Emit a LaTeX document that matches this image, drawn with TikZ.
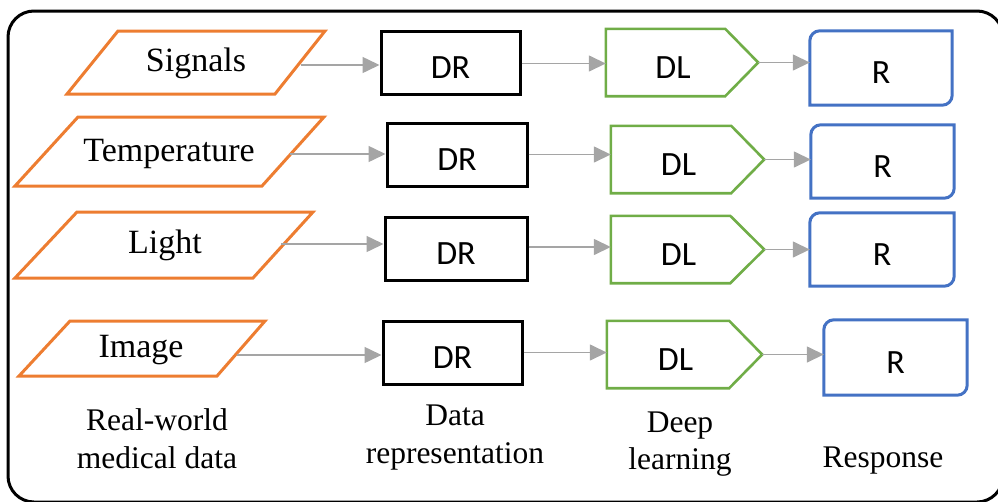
\documentclass[tikz,border=0pt]{standalone}
\usepackage{fontspec}
\setmainfont{Liberation Serif}
\newfontfamily\boxfont{Carlito}
\usetikzlibrary{arrows.meta,calc}

\definecolor{inorange}{HTML}{ED7D31}
\definecolor{dlgreen}{HTML}{70AD47}
\definecolor{rblue}{HTML}{4472C4}
\definecolor{arrgrey}{HTML}{A5A5A5}

\tikzset{
  frame/.style={line width=3pt, rounded corners=26pt},
  inshape/.style={draw=inorange, line width=3pt, line join=miter},
  intext/.style={font=\fontsize{34}{40}\selectfont, inner sep=0pt, anchor=base},
  boxtext/.style={inner sep=0pt, font=\boxfont\fontsize{34}{38}\selectfont,
    text height=31pt, text depth=0pt},
  drbox/.style={boxtext, draw=black, line width=3pt},
  dlbox/.style={boxtext},
  dlline/.style={draw=dlgreen, line width=2.6pt, line join=miter},
  rbox/.style={boxtext},
  rline/.style={draw=rblue, line width=3pt},
  flow/.style={draw=arrgrey, line width=1.5pt, -{Triangle[length=17pt,width=16pt]}},
  caption/.style={font=\fontsize{31.5}{38}\selectfont, inner sep=0pt, anchor=base}
}

% pentagon outline of a deep-learning block: #1 node, #2 depth of the point
\newcommand{\dlshape}[2]{%
  \draw[dlline] (#1.south west) -- (#1.north west) -- ([xshift=-#2]#1.north east)
    -- (#1.east) -- ([xshift=-#2]#1.south east) -- cycle;}
% response box: rounded top-left and bottom-right corners
\newcommand{\rshape}[1]{%
  \draw[rline] (#1.south west) -- ([yshift=-10pt]#1.north west)
    arc[start angle=180, end angle=90, radius=10pt] -- (#1.north east)
    -- ([yshift=10pt]#1.south east)
    arc[start angle=0, end angle=-90, radius=10pt] -- cycle;}

\begin{document}
\begin{tikzpicture}[x=1pt, y=-1pt]
\useasboundingbox (0,0) rectangle (998,501);

% outer frame
\draw[frame] (8,11) rectangle (1003,502);

% ---- row 1 : Signals ----
\draw[inshape] (118,31) -- (325,31) -- (275,94) -- (67,94) -- cycle;
\node[intext] (sig) at (196,71) {Signals};
\coordinate (sige) at (301,65);
\node[drbox, minimum width=139pt, minimum height=63pt] (dr1) at (450.5,62.5) {DR};
\node[dlbox, minimum width=152pt, minimum height=67pt] (dl1) at (682,62.5) {\kern-18pt DL};
\dlshape{dl1}{33pt}
\node[rbox, minimum width=142pt, minimum height=74pt] (r1) at (881,68) {R};
\rshape{r1}
\draw[flow] (sige) -- (sige -| dr1.west);
\draw[flow] ([yshift=-1pt]dr1.east) -- ([yshift=-1pt]dr1.east -| dl1.west);
\draw[flow] (dl1.east) -- (dl1.east -| r1.west);

% ---- row 2 : Temperature ----
\draw[inshape] (78,117) -- (324,117) -- (262,186) -- (15,186) -- cycle;
\node[intext] (tmp) at (169,161) {Temperature};
\coordinate (tmpe) at (290,154);
\node[drbox, minimum width=140pt, minimum height=63pt] (dr2) at (457,154.5) {DR};
\node[dlbox, minimum width=153pt, minimum height=67pt] (dl2) at (687.5,159.5) {\kern-18pt DL};
\dlshape{dl2}{33pt}
\node[rbox, minimum width=143pt, minimum height=73pt] (r2) at (882.5,161.5) {R};
\rshape{r2}
\draw[flow] (tmpe) -- (tmpe -| dr2.west);
\draw[flow] (dr2.east) -- (dr2.east -| dl2.west);
\draw[flow] (dl2.east) -- (dl2.east -| r2.west);

% ---- row 3 : Light ----
\draw[inshape] (77,212) -- (313,212) -- (253,278) -- (15,278) -- cycle;
\node[intext] (lgt) at (165,253) {Light};
\coordinate (lgte) at (281,244);
\node[drbox, minimum width=142pt, minimum height=63pt] (dr3) at (456,248.5) {DR};
\node[dlbox, minimum width=153pt, minimum height=67pt] (dl3) at (687.5,249.5) {\kern-18pt DL};
\dlshape{dl3}{34pt}
\node[rbox, minimum width=144pt, minimum height=73pt] (r3) at (882,249.5) {R};
\rshape{r3}
\draw[flow] (lgte) -- (lgte -| dr3.west);
\draw[flow] ([yshift=1.5pt]dr3.east) -- ([yshift=1.5pt]dr3.east -| dl3.west);
\draw[flow] (dl3.east) -- (dl3.east -| r3.west);

% ---- row 4 : Image ----
\draw[inshape] (70,321) -- (265,321) -- (217,376) -- (19,376) -- cycle;
\node[intext] (img) at (141,357) {Image};
\coordinate (imge) at (237,355);
\node[drbox, minimum width=139pt, minimum height=63pt] (dr4) at (452.5,352.5) {DR};
\node[dlbox, minimum width=155pt, minimum height=67pt] (dl4) at (684.5,354.5) {\kern-18pt DL};
\dlshape{dl4}{33pt}
\node[rbox, minimum width=143pt, minimum height=75pt] (r4) at (895.5,357.5) {R};
\rshape{r4}
\draw[flow] (imge) -- (imge -| dr4.west);
\draw[flow] (dr4.east) -- (dr4.east -| dl4.west);
\draw[flow] (dl4.east) -- (dl4.east -| r4.west);

% ---- column captions ----
\node[caption] (c1a) at (157,430) {Real-world};
\node[caption] (c1b) at (157,468) {medical data};
\node[caption] (c2a) at (455,425) {Data};
\node[caption] (c2b) at (455,463) {representation};
\node[caption] (c3a) at (680,432) {Deep};
\node[caption] (c3b) at (680,469) {learning};
\node[caption] (c4) at (883,467) {Response};
\end{tikzpicture}
\end{document}
